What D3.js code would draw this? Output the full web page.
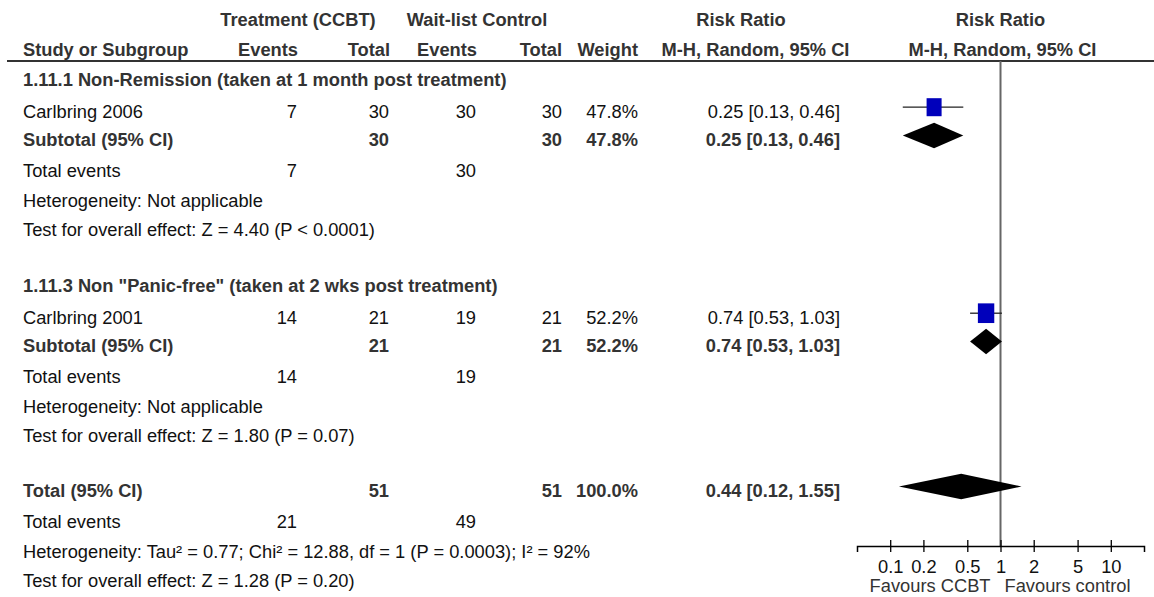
<!DOCTYPE html>
<html>
<head>
<meta charset="utf-8">
<script src="https://cdn.jsdelivr.net/npm/d3@7"></script>
<style>
  body { margin: 0; background: #fff; }
  svg { display: block; font-family: "Liberation Sans", Arial, sans-serif; }
</style>
</head>
<body>
<div id="forest"></div>
<script>
// study level data
const groupTitles = [
    "1.11.1 Non-Remission (taken at 1 month post treatment)",
    "1.11.3 Non \"Panic-free\" (taken at 2 wks post treatment)"
];
const studyNames = ["Carlbring 2006", "Carlbring 2001"];
const studyGroup = [0, 1];
const treatEvents = [7, 14];
const treatTotal = [30, 21];
const ctrlEvents = [30, 19];
const ctrlTotal = [30, 21];
const studyWeight = [47.8, 52.2];
const studyRR = [0.25, 0.74];
const studyLow = [0.13, 0.53];
const studyHigh = [0.46, 1.03];

// subgroup results
const subRR = [0.25, 0.74];
const subLow = [0.13, 0.53];
const subHigh = [0.46, 1.03];
const subHet = ["Heterogeneity: Not applicable", "Heterogeneity: Not applicable"];
const subTest = ["Test for overall effect: Z = 4.40 (P < 0.0001)", "Test for overall effect: Z = 1.80 (P = 0.07)"];

// overall result
const overallRR = [0.44, 0.12, 1.55];
const overallHet = "Heterogeneity: Tau² = 0.77; Chi² = 12.88, df = 1 (P = 0.0003); I² = 92%";
const overallTest = "Test for overall effect: Z = 1.28 (P = 0.20)";

const tickValues = [0.1, 0.2, 0.5, 1, 2, 5, 10];
const favourLabels = ["Favours CCBT", "Favours control"];

const width = 1154, height = 597;
const fs = "18.3px";
const fmtW = w => d3.format(".1f")(w) + "%";
const fmtCI = (r, l, h) => `${r.toFixed(2)} [${l.toFixed(2)}, ${h.toFixed(2)}]`;

// columns: x position + anchor
const cols = {
    label: { x: 23, anchor: "start" },
    te: { x: 297, anchor: "end" },
    tt: { x: 389, anchor: "end" },
    ce: { x: 476, anchor: "end" },
    ct: { x: 562, anchor: "end" },
    w: { x: 638, anchor: "end" },
    ci: { x: 840, anchor: "end" }
};

// build the rows
const rows = [];
groupTitles.forEach((title, g) => {
    rows.push({ kind: "group", bold: true, cells: { label: title } });
    const idx = d3.range(studyNames.length).filter(i => studyGroup[i] === g);
    idx.forEach(i => rows.push({
        kind: "study", cells: {
            label: studyNames[i], te: treatEvents[i], tt: treatTotal[i], ce: ctrlEvents[i], ct: ctrlTotal[i],
            w: fmtW(studyWeight[i]), ci: fmtCI(studyRR[i], studyLow[i], studyHigh[i])
        },
        mark: { type: "square", rr: studyRR[i], lo: studyLow[i], hi: studyHigh[i], w: studyWeight[i] }
    }));
    rows.push({
        kind: "subtotal", bold: true, cells: {
            label: "Subtotal (95% CI)", tt: d3.sum(idx, i => treatTotal[i]), ct: d3.sum(idx, i => ctrlTotal[i]),
            w: fmtW(d3.sum(idx, i => studyWeight[i])), ci: fmtCI(subRR[g], subLow[g], subHigh[g])
        },
        mark: { type: "diamond", rr: subRR[g], lo: subLow[g], hi: subHigh[g] }
    });
    rows.push({ kind: "events", cells: { label: "Total events", te: d3.sum(idx, i => treatEvents[i]), ce: d3.sum(idx, i => ctrlEvents[i]) } });
    rows.push({ kind: "het", cells: { label: subHet[g] } });
    rows.push({ kind: "test", cells: { label: subTest[g] } });
});
rows.push({
    kind: "total", bold: true, cells: {
        label: "Total (95% CI)", tt: d3.sum(treatTotal), ct: d3.sum(ctrlTotal),
        w: fmtW(d3.sum(studyWeight)), ci: fmtCI(...overallRR)
    },
    mark: { type: "diamond", rr: overallRR[0], lo: overallRR[1], hi: overallRR[2] }
});
rows.push({ kind: "events", cells: { label: "Total events", te: d3.sum(treatEvents), ce: d3.sum(ctrlEvents) } });
rows.push({ kind: "het", cells: { label: overallHet } });
rows.push({ kind: "test", cells: { label: overallTest } });

// vertical spacing (gap before a row of this kind)
const gapBefore = { group: 56, study: 32, subtotal: 28, events: 31, het: 30, test: 29, total: 55 };
let yb = 86;
rows.forEach((r, i) => {
    if (i > 0) yb += gapBefore[r.kind];
    r.y = yb;
});

const svg = d3.select("#forest")
    .append("svg")
    .attr("width", width)
    .attr("height", height);

const x = d3.scaleLog()
    .domain([0.05, 20])
    .range([857, 1144]);

const boxSize = d3.scaleLinear().domain([0, 100]).range([0, 31.4]);

const axisY = 546, headLineY = 61;

// header
const head1 = [
    { t: "Treatment (CCBT)", x: 298, a: "middle" },
    { t: "Wait-list Control", x: 477, a: "middle" },
    { t: "Risk Ratio", x: 741, a: "middle" },
    { t: "Risk Ratio", x: x(1), a: "middle" }
];
const head2 = [
    { t: "Study or Subgroup", x: cols.label.x, a: "start" },
    { t: "Events", x: 298, a: "end" },
    { t: "Total", x: 390, a: "end" },
    { t: "Events", x: 477, a: "end" },
    { t: "Total", x: 562, a: "end" },
    { t: "Weight", x: 638, a: "end" },
    { t: "M-H, Random, 95% CI", x: 755.5, a: "middle" },
    { t: "M-H, Random, 95% CI", x: x(1) + 2, a: "middle" }
];
[[head1, 26], [head2, 56]].forEach(([items, y]) => {
    svg.selectAll(null)
        .data(items)
        .enter()
        .append("text")
        .attr("x", d => d.x)
        .attr("y", y)
        .attr("text-anchor", d => d.a)
        .style("font-size", fs)
        .style("font-weight", "bold")
        .style("fill", "#333")
        .text(d => d.t);
});

svg.append("line")
    .attr("x1", 7).attr("x2", width)
    .attr("y1", headLineY).attr("y2", headLineY)
    .attr("stroke", "#333")
    .attr("stroke-width", 2);

// null line
svg.append("line")
    .attr("x1", x(1)).attr("x2", x(1))
    .attr("y1", headLineY).attr("y2", axisY)
    .attr("stroke", "#666")
    .attr("stroke-width", 2);

// table text
rows.forEach(r => {
    Object.entries(r.cells).forEach(([k, v]) => {
        svg.append("text")
            .attr("x", cols[k].x)
            .attr("y", r.y)
            .attr("text-anchor", cols[k].anchor)
            .style("font-size", fs)
            .style("font-weight", r.bold ? "bold" : "normal")
            .style("fill", r.bold ? "#333" : "#111")
            .text(v);
    });
});

// marks
const markRows = rows.filter(r => r.mark);
markRows.filter(r => r.mark.type === "square").forEach(r => {
    const cy = r.y - 10.8, m = r.mark;
    const bw = boxSize(m.w), bh = bw * 1.2;
    svg.append("line")
        .attr("x1", x(m.lo)).attr("x2", x(m.hi))
        .attr("y1", cy).attr("y2", cy)
        .attr("stroke", "#222")
        .attr("stroke-width", 1.3);
    svg.append("rect")
        .attr("x", x(m.rr) - bw / 2)
        .attr("y", cy - bh / 2)
        .attr("width", bw)
        .attr("height", bh)
        .attr("fill", "#0000bb");
});
markRows.filter(r => r.mark.type === "diamond").forEach(r => {
    const cy = r.y - 10.5, m = r.mark, hh = 12.7;
    svg.append("polygon")
        .attr("points", [[x(m.lo), cy], [x(m.rr), cy - hh], [x(m.hi), cy], [x(m.rr), cy + hh]].join(" "))
        .attr("fill", "#000");
});

// axis
const axis = svg.append("g")
    .attr("transform", "translate(0," + axisY + ")")
    .call(d3.axisBottom(x).tickValues(tickValues).tickFormat(d3.format("")).tickSizeOuter(0).tickSize(6));
axis.select(".domain").attr("stroke", "#000").attr("stroke-width", 1.5);
axis.selectAll(".tick line").attr("y1", -6).attr("y2", 6).attr("stroke", "#000").attr("stroke-width", 1.3);
axis.selectAll(".tick text")
    .attr("y", 27)
    .attr("dy", 0)
    .style("font-size", fs)
    .style("font-family", "Liberation Sans, Arial, sans-serif")
    .style("fill", "#111");

svg.append("text")
    .attr("x", x(1) - 10)
    .attr("y", 592)
    .attr("text-anchor", "end")
    .style("font-size", fs)
    .style("fill", "#333")
    .text(favourLabels[0]);

svg.append("text")
    .attr("x", x(1) + 4)
    .attr("y", 592)
    .attr("text-anchor", "start")
    .style("font-size", fs)
    .style("fill", "#333")
    .text(favourLabels[1]);
</script>
</body>
</html>
